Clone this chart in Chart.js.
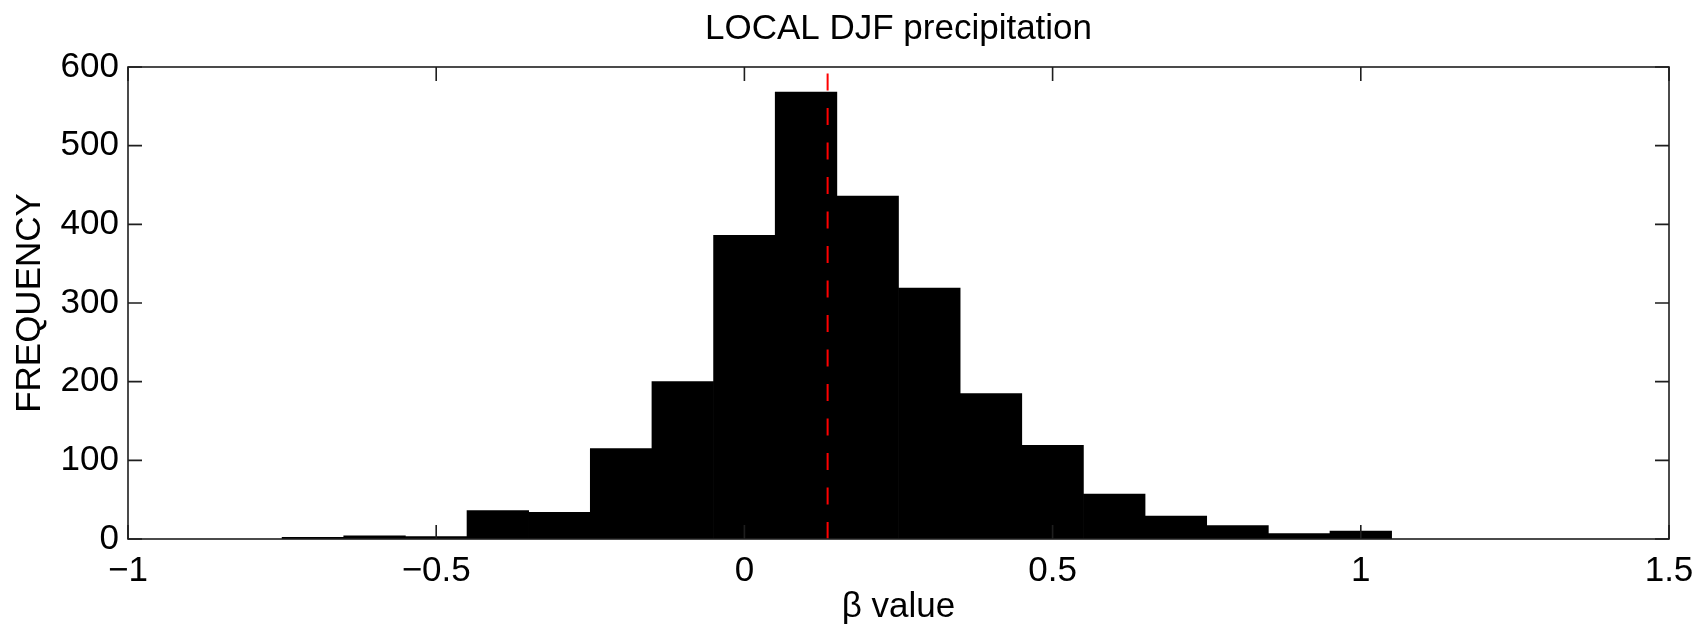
<!DOCTYPE html>
<html>
<head>
<meta charset="utf-8">
<title>LOCAL DJF precipitation</title>
<script src="https://cdn.jsdelivr.net/npm/chart.js@4"></script>
<style>
  html, body { margin: 0; padding: 0; background: #fff; }
  canvas { display: block; }
</style>
</head>
<body>
<canvas id="betaHist" width="1705" height="631"></canvas>
<script>
// histogram bins (centres, width 0.1) and counts
const binCenters = [-0.7, -0.6, -0.5, -0.4, -0.3, -0.2, -0.1, 0, 0.1, 0.2, 0.3, 0.4, 0.5, 0.6, 0.7, 0.8, 0.9, 1.0];
const counts = [2, 4, 3, 36, 34, 115, 200, 386, 568, 436, 319, 185, 119, 57, 29, 17, 7, 10];
const meanBeta = 0.135;

const xTicks = [-1, -0.5, 0, 0.5, 1, 1.5];
const yTicks = [0, 100, 200, 300, 400, 500, 600];

const FONT = "'Liberation Sans', Arial, Helvetica, sans-serif";
const SIZE = 35;
const minus = (v) => (v < 0 ? "\u2212" + Math.abs(v) : String(v));

// box around the plot with inward ticks on all four sides
const frame = {
    id: "frame",
    afterDraw(chart) {
        const { ctx, chartArea: a, scales } = chart;
        const len = 14;
        ctx.save();
        ctx.strokeStyle = "#1e1e1e";
        ctx.lineWidth = 1.6;
        ctx.strokeRect(a.left, a.top, a.right - a.left, a.bottom - a.top);
        ctx.beginPath();
        scales.x.ticks.forEach((t) => {
            const px = scales.x.getPixelForValue(t.value);
            ctx.moveTo(px, a.bottom);
            ctx.lineTo(px, a.bottom - len);
            ctx.moveTo(px, a.top);
            ctx.lineTo(px, a.top + len);
        });
        scales.y.ticks.forEach((t) => {
            const py = scales.y.getPixelForValue(t.value);
            ctx.moveTo(a.left, py);
            ctx.lineTo(a.left + len, py);
            ctx.moveTo(a.right, py);
            ctx.lineTo(a.right - len, py);
        });
        ctx.stroke();
        ctx.restore();
    },
};

const ctx = document.getElementById("betaHist").getContext("2d");
const betaHist = new Chart(ctx, {
    type: "bar",
    data: {
        datasets: [
            {
                type: "line",
                data: [{ x: meanBeta, y: 0 }, { x: meanBeta, y: 600 }],
                borderColor: "#ff0000",
                borderWidth: 2,
                borderDash: [17, 17.5],
                pointRadius: 0,
                order: 0,
            },
            {
                data: binCenters.map((c, i) => ({ x: c, y: counts[i] })),
                backgroundColor: "#000",
                borderWidth: 0,
                barPercentage: 1,
                categoryPercentage: 1,
                order: 1,
            },
        ],
    },
    options: {
        responsive: false,
        animation: false,
        devicePixelRatio: 1,
        layout: { padding: { left: 0, right: 36, top: 0, bottom: 0 } },
        scales: {
            x: {
                type: "linear",
                offset: false,
                min: -1,
                max: 1.5,
                afterBuildTicks: (s) => { s.ticks = xTicks.map((v) => ({ value: v })); },
                afterFit: (s) => { s.height = 92; },
                grid: { display: false, drawTicks: false },
                border: { display: false },
                ticks: {
                    color: "#000",
                    font: { family: FONT, size: SIZE },
                    padding: 11,
                    autoSkip: false,
                    maxRotation: 0,
                    callback: (v) => minus(v),
                },
                title: {
                    display: true,
                    text: "\u03b2 value",
                    color: "#000",
                    font: { family: FONT, size: SIZE, lineHeight: 1.2 },
                    padding: { top: 0, bottom: 3 },
                },
            },
            y: {
                min: 0,
                max: 600,
                afterBuildTicks: (s) => { s.ticks = yTicks.map((v) => ({ value: v })); },
                afterFit: (s) => { s.width = 128; },
                grid: { display: false, drawTicks: false },
                border: { display: false },
                ticks: {
                    color: "#000",
                    font: { family: FONT, size: SIZE },
                    padding: 9,
                },
                title: {
                    display: true,
                    text: "FREQUENCY",
                    color: "#000",
                    font: { family: FONT, size: SIZE, lineHeight: 1.2 },
                    padding: { top: 9, bottom: 0 },
                },
            },
        },
        plugins: {
            legend: { display: false },
            tooltip: { enabled: false },
            title: {
                display: true,
                fullSize: false,
                text: "LOCAL DJF precipitation",
                color: "#000",
                font: { family: FONT, size: SIZE, weight: "normal", lineHeight: 1.2 },
                padding: { top: 8, bottom: 17 },
            },
        },
    },
    plugins: [frame],
});
</script>
</body>
</html>
